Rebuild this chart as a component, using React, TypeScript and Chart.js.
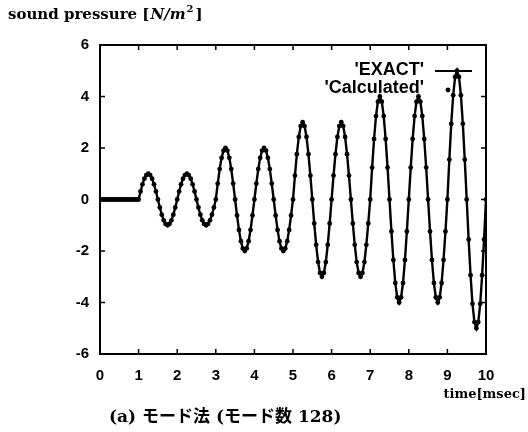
import React, { useEffect, useRef } from "react";
import { Chart, registerables } from "chart.js";

Chart.register(...registerables);

// sampling step of the time axis (msec)
const SAMPLE_STEP = 0.05;

// sound pressure [N/m^2], 20 samples per msec, segment n covers t = n .. n+0.95
const pressure0 = [0, 0, 0, 0, 0, 0, 0, 0, 0, 0, 0, 0, 0, 0, 0, 0, 0, 0, 0, 0];
const pressure1 = [0, 0.31, 0.59, 0.81, 0.95, 1, 0.95, 0.81, 0.59, 0.31, 0, -0.31, -0.59, -0.81, -0.95, -1, -0.95, -0.81, -0.59, -0.31];
const pressure2 = [0, 0.31, 0.59, 0.81, 0.95, 1, 0.95, 0.81, 0.59, 0.31, 0, -0.31, -0.59, -0.81, -0.95, -1, -0.95, -0.81, -0.59, -0.31];
const pressure3 = [0, 0.62, 1.18, 1.62, 1.9, 2, 1.9, 1.62, 1.18, 0.62, 0, -0.62, -1.18, -1.62, -1.9, -2, -1.9, -1.62, -1.18, -0.62];
const pressure4 = [0, 0.62, 1.18, 1.62, 1.9, 2, 1.9, 1.62, 1.18, 0.62, 0, -0.62, -1.18, -1.62, -1.9, -2, -1.9, -1.62, -1.18, -0.62];
const pressure5 = [0, 0.93, 1.76, 2.43, 2.85, 3, 2.85, 2.43, 1.76, 0.93, 0, -0.93, -1.76, -2.43, -2.85, -3, -2.85, -2.43, -1.76, -0.93];
const pressure6 = [0, 0.93, 1.76, 2.43, 2.85, 3, 2.85, 2.43, 1.76, 0.93, 0, -0.93, -1.76, -2.43, -2.85, -3, -2.85, -2.43, -1.76, -0.93];
const pressure7 = [0, 1.24, 2.35, 3.24, 3.8, 4, 3.8, 3.24, 2.35, 1.24, 0, -1.24, -2.35, -3.24, -3.8, -4, -3.8, -3.24, -2.35, -1.24];
const pressure8 = [0, 1.24, 2.35, 3.24, 3.8, 4, 3.8, 3.24, 2.35, 1.24, 0, -1.24, -2.35, -3.24, -3.8, -4, -3.8, -3.24, -2.35, -1.24];
const pressure9 = [0, 1.55, 2.94, 4.05, 4.76, 5, 4.76, 4.05, 2.94, 1.55, 0, -1.55, -2.94, -4.05, -4.76, -5, -4.76, -4.05, -2.94, -1.55];
const pressureEnd = [0];

const exactValues = [
  ...pressure0, ...pressure1, ...pressure2, ...pressure3, ...pressure4,
  ...pressure5, ...pressure6, ...pressure7, ...pressure8, ...pressure9, ...pressureEnd,
];
const calculatedValues = exactValues;

const xTickValues = [0, 1, 2, 3, 4, 5, 6, 7, 8, 9, 10];
const yTickValues = [-6, -4, -2, 0, 2, 4, 6];

const yTitle = "sound pressure";
const xTitle = "time[msec]";
const caption = "(a) モード法 (モード数 128)";
const legendLabels = ["'EXACT'", "'Calculated'"];

const SANS = "'Liberation Sans', Arial, sans-serif";
const SERIF = "'DejaVu Serif', 'Noto Sans CJK JP', serif";

const framePlugin = {
  id: "frameAndText",
  afterDraw(chart: any) {
    const ctx = chart.ctx;
    const { left, right, top, bottom } = chart.chartArea;
    const xs = chart.scales.x;
    const ys = chart.scales.y;
    ctx.save();
    ctx.strokeStyle = "#000";
    ctx.lineWidth = 2;
    ctx.strokeRect(left, top, right - left, bottom - top);
    ctx.lineWidth = 1.5;
    const tl = 5;
    ctx.beginPath();
    xTickValues.forEach((v) => {
      const px = xs.getPixelForValue(v);
      ctx.moveTo(px, bottom);
      ctx.lineTo(px, bottom - tl);
      ctx.moveTo(px, top);
      ctx.lineTo(px, top + tl);
    });
    yTickValues.forEach((v) => {
      const py = ys.getPixelForValue(v);
      ctx.moveTo(left, py);
      ctx.lineTo(left + tl, py);
      ctx.moveTo(right, py);
      ctx.lineTo(right - tl, py);
    });
    ctx.stroke();

    // y title
    ctx.fillStyle = "#000";
    ctx.textBaseline = "alphabetic";
    ctx.textAlign = "left";
    let x = 8;
    const by = 19;
    ctx.font = `bold 15px ${SERIF}`;
    ctx.fillText(yTitle, x, by);
    x += ctx.measureText(yTitle + " ").width;
    ctx.fillText("[", x, by);
    x += ctx.measureText("[").width + 1;
    ctx.font = `italic bold 15px ${SERIF}`;
    ctx.fillText("N/m", x, by);
    x += ctx.measureText("N/m").width + 1;
    ctx.font = `bold 10px ${SERIF}`;
    ctx.fillText("2", x, by - 7);
    x += ctx.measureText("2").width + 2;
    ctx.font = `bold 15px ${SERIF}`;
    ctx.fillText("]", x, by);

    // x title
    ctx.font = `bold 13px ${SERIF}`;
    ctx.textAlign = "right";
    ctx.fillText(xTitle, 526, 398);

    // caption
    ctx.font = `bold 17px ${SERIF}`;
    ctx.textAlign = "left";
    ctx.fillText(caption, 109, 422);

    // legend
    ctx.font = `bold 18px ${SANS}`;
    ctx.textAlign = "right";
    ctx.textBaseline = "middle";
    ctx.fillText(legendLabels[0], 424, 70);
    ctx.fillText(legendLabels[1], 424, 88);
    ctx.lineWidth = 2;
    ctx.beginPath();
    ctx.moveTo(435, 71);
    ctx.lineTo(472, 71);
    ctx.stroke();
    ctx.beginPath();
    ctx.arc(448, 90, 2.4, 0, Math.PI * 2);
    ctx.fill();
    ctx.restore();
  },
};

export default function App() {
  const ref = useRef<HTMLCanvasElement | null>(null);
  useEffect(() => {
    if (!ref.current) return;
    const pointsExact = exactValues.map((v, i) => ({ x: +(i * SAMPLE_STEP).toFixed(2), y: v }));
    const pointsCalc = calculatedValues.map((v, i) => ({ x: +(i * SAMPLE_STEP).toFixed(2), y: v }));
    const tickFont = { family: SANS, size: 15, weight: "bold" as const };
    const chart = new Chart(ref.current, {
      type: "line",
      data: {
        datasets: [
          {
            label: legendLabels[0],
            data: pointsExact,
            borderColor: "#000",
            borderWidth: 2.4,
            pointRadius: 0,
            tension: 0,
            fill: false,
          },
          {
            label: legendLabels[1],
            data: pointsCalc,
            showLine: false,
            pointRadius: 2.4,
            pointBackgroundColor: "#000",
            pointBorderColor: "#000",
            pointBorderWidth: 0,
          },
        ],
      },
      options: {
        animation: false,
        responsive: false,
        maintainAspectRatio: false,
        layout: { padding: { top: 45, right: 42, bottom: 0, left: 0 } },
        plugins: { legend: { display: false }, tooltip: { enabled: false }, title: { display: false } },
        scales: {
          x: {
            type: "linear",
            min: 0,
            max: 10,
            afterFit: (s: any) => { s.height = 78; },
            afterBuildTicks: (s: any) => { s.ticks = xTickValues.map((v) => ({ value: v })); },
            grid: { display: false, drawTicks: false },
            border: { display: false },
            ticks: { font: tickFont, color: "#000", padding: 13, maxRotation: 0, autoSkip: false },
          },
          y: {
            type: "linear",
            min: -6,
            max: 6,
            afterFit: (s: any) => { s.width = 100; },
            afterBuildTicks: (s: any) => { s.ticks = yTickValues.map((v) => ({ value: v })); },
            grid: { display: false, drawTicks: false },
            border: { display: false },
            ticks: { font: tickFont, color: "#000", padding: 11, autoSkip: false },
          },
        },
      },
      plugins: [framePlugin],
    });
    return () => chart.destroy();
  }, []);
  return (
    <div style={{ position: "fixed", left: 0, top: 0, width: 528, height: 432, background: "#fff" }}>
      <canvas ref={ref} width={528} height={432} style={{ width: 528, height: 432, display: "block" }} />
    </div>
  );
}
